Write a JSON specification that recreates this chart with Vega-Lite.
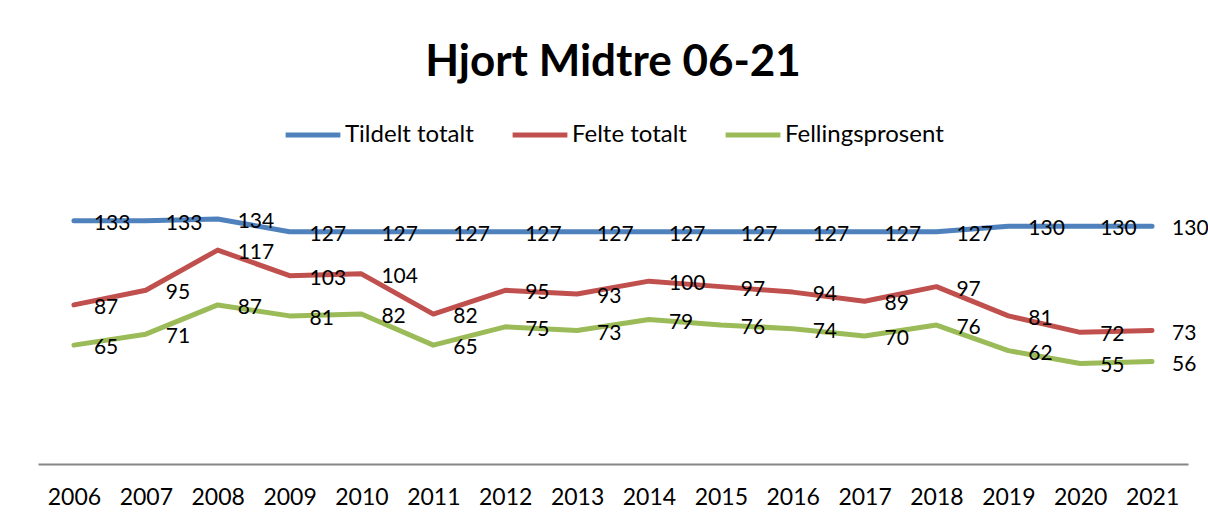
{
  "$schema": "https://vega.github.io/schema/vega-lite/v6.json",
  "autosize": {"type": "none"},
  "width": 1150,
  "height": 256,
  "padding": {"left": 38, "top": 208, "right": 20, "bottom": 60},
  "background": "white",
  "config": {"view": {"stroke": null}, "font": "Lato"},
  "title": {"text": "Hjort Midtre 06-21", "anchor": "middle", "fontSize": 44, "fontWeight": "bold", "font": "Lato", "color": "#000000", "offset": 20},
  "data": {"values": [
    {"year": "2006", "series": "Tildelt totalt", "value": 133},
    {"year": "2007", "series": "Tildelt totalt", "value": 133},
    {"year": "2008", "series": "Tildelt totalt", "value": 134},
    {"year": "2009", "series": "Tildelt totalt", "value": 127},
    {"year": "2010", "series": "Tildelt totalt", "value": 127},
    {"year": "2011", "series": "Tildelt totalt", "value": 127},
    {"year": "2012", "series": "Tildelt totalt", "value": 127},
    {"year": "2013", "series": "Tildelt totalt", "value": 127},
    {"year": "2014", "series": "Tildelt totalt", "value": 127},
    {"year": "2015", "series": "Tildelt totalt", "value": 127},
    {"year": "2016", "series": "Tildelt totalt", "value": 127},
    {"year": "2017", "series": "Tildelt totalt", "value": 127},
    {"year": "2018", "series": "Tildelt totalt", "value": 127},
    {"year": "2019", "series": "Tildelt totalt", "value": 130},
    {"year": "2020", "series": "Tildelt totalt", "value": 130},
    {"year": "2021", "series": "Tildelt totalt", "value": 130},
    {"year": "2006", "series": "Felte totalt", "value": 87},
    {"year": "2007", "series": "Felte totalt", "value": 95},
    {"year": "2008", "series": "Felte totalt", "value": 117},
    {"year": "2009", "series": "Felte totalt", "value": 103},
    {"year": "2010", "series": "Felte totalt", "value": 104},
    {"year": "2011", "series": "Felte totalt", "value": 82},
    {"year": "2012", "series": "Felte totalt", "value": 95},
    {"year": "2013", "series": "Felte totalt", "value": 93},
    {"year": "2014", "series": "Felte totalt", "value": 100},
    {"year": "2015", "series": "Felte totalt", "value": 97},
    {"year": "2016", "series": "Felte totalt", "value": 94},
    {"year": "2017", "series": "Felte totalt", "value": 89},
    {"year": "2018", "series": "Felte totalt", "value": 97},
    {"year": "2019", "series": "Felte totalt", "value": 81},
    {"year": "2020", "series": "Felte totalt", "value": 72},
    {"year": "2021", "series": "Felte totalt", "value": 73},
    {"year": "2006", "series": "Fellingsprosent", "value": 65},
    {"year": "2007", "series": "Fellingsprosent", "value": 71},
    {"year": "2008", "series": "Fellingsprosent", "value": 87},
    {"year": "2009", "series": "Fellingsprosent", "value": 81},
    {"year": "2010", "series": "Fellingsprosent", "value": 82},
    {"year": "2011", "series": "Fellingsprosent", "value": 65},
    {"year": "2012", "series": "Fellingsprosent", "value": 75},
    {"year": "2013", "series": "Fellingsprosent", "value": 73},
    {"year": "2014", "series": "Fellingsprosent", "value": 79},
    {"year": "2015", "series": "Fellingsprosent", "value": 76},
    {"year": "2016", "series": "Fellingsprosent", "value": 74},
    {"year": "2017", "series": "Fellingsprosent", "value": 70},
    {"year": "2018", "series": "Fellingsprosent", "value": 76},
    {"year": "2019", "series": "Fellingsprosent", "value": 62},
    {"year": "2020", "series": "Fellingsprosent", "value": 55},
    {"year": "2021", "series": "Fellingsprosent", "value": 56}
  ]},
  "encoding": {
    "x": {"field": "year", "type": "ordinal", "scale": {"type": "point", "padding": 0.5},
      "axis": {"title": null, "labelAngle": 0, "labelFontSize": 23, "labelFont": "Lato", "labelColor": "#000000", "labelPadding": 22, "ticks": false, "domainColor": "#868686", "domainWidth": 2, "grid": false}},
    "y": {"field": "value", "type": "quantitative", "scale": {"domain": [0, 140], "nice": false}, "axis": null}
  },
  "layer": [
    {
      "mark": {"type": "line", "strokeWidth": 5, "strokeCap": "round", "strokeJoin": "round"},
      "encoding": {
        "color": {"field": "series", "type": "nominal",
          "scale": {"domain": ["Tildelt totalt", "Felte totalt", "Fellingsprosent"], "range": ["#4F81BD", "#C0504D", "#9BBB59"]},
          "legend": {"title": null, "orient": "none", "direction": "horizontal", "legendX": 245, "legendY": -103,
            "symbolType": "stroke", "symbolSize": 3000, "symbolStrokeWidth": 5, "labelFontSize": 24, "labelFont": "Lato", "labelColor": "#000000", "columnPadding": 28, "labelOffset": 2, "labelLimit": 400}}
      }
    },
    {
      "mark": {"type": "text", "align": "left", "baseline": "middle", "dx": 20, "dy": 3, "fontSize": 21, "font": "Lato", "color": "#000000"},
      "encoding": {"text": {"field": "value", "type": "quantitative"}, "detail": {"field": "series"}}
    }
  ]
}
